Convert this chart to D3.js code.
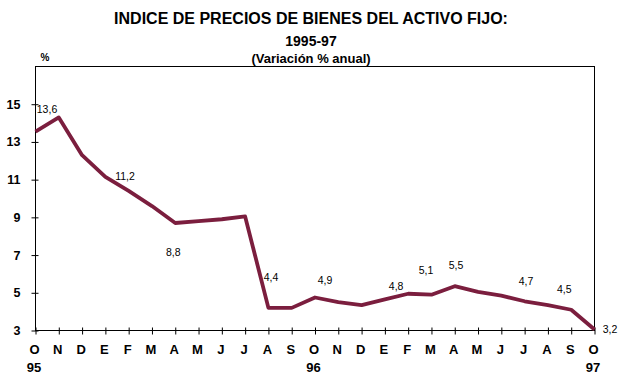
<!DOCTYPE html>
<html>
<head>
<meta charset="utf-8">
<script src="https://cdn.jsdelivr.net/npm/d3@7"></script>
<style>
  html, body { margin: 0; padding: 0; background: #fff; }
  svg { display: block; font-family: "Liberation Sans", Arial, sans-serif; }
</style>
</head>
<body>
<svg id="chart" width="623" height="391"></svg>
<script>
// ---- Data ----
const months = ["O","N","D","E","F","M","A","M","J","J","A","S",
                "O","N","D","E","F","M","A","M","J","J","A","S","O"];
const yearLabels = ["95", "96", "97"];
const yearMonthIndex = [0, 12, 24];
const values = [13.55, 14.3, 12.3, 11.15, 10.4, 9.6, 8.7, 8.8, 8.9, 9.05, 4.2, 4.2,
                4.75, 4.5, 4.35, 4.65, 4.95, 4.9, 5.35, 5.05, 4.85, 4.55, 4.35, 4.1, 3.05];
const labelMonthIndex = [0, 3, 6, 10, 12, 16, 17, 18, 21, 23, 24];
const labelValues = [13.6, 11.2, 8.8, 4.4, 4.9, 4.8, 5.1, 5.5, 4.7, 4.5, 3.2];
const yTicks = [3, 5, 7, 9, 11, 13, 15];

// ---- Layout (positions / styles) ----
const labelOffsets = [[11.5,-18.6],[19.6,3.2],[-2,32.7],[2.6,-27],[10,-13.5],[-12,-3.7],
                      [-5.5,-20.7],[1.3,-17],[1.4,-16],[-7,-17],[15.5,3.5]];
const plotL = 35.5, plotR = 594.5, plotT = 66.5, plotB = 330.5;
const lineColor = "#7b1e3e";

const svg = d3.select("#chart");
const x = d3.scaleLinear().domain([0, months.length - 1]).range([plotL, plotR]);
const y = d3.scaleLinear().domain([3, 17]).range([plotB, plotT]);

// Titles
svg.append("text").attr("x", 311).attr("y", 24).attr("text-anchor", "middle")
  .attr("font-weight", "bold").attr("font-size", 16).text("INDICE DE PRECIOS DE BIENES DEL ACTIVO FIJO:");
svg.append("text").attr("x", 311).attr("y", 46).attr("text-anchor", "middle")
  .attr("font-weight", "bold").attr("font-size", 14).text("1995-97");
svg.append("text").attr("x", 311).attr("y", 63).attr("text-anchor", "middle")
  .attr("font-weight", "bold").attr("font-size", 13).text("(Variación % anual)");
svg.append("text").attr("x", 45).attr("y", 61).attr("text-anchor", "middle")
  .attr("font-weight", "bold").attr("font-size", 10).text("%");

// Frame
svg.append("rect").attr("x", plotL).attr("y", plotT).attr("width", plotR - plotL).attr("height", plotB - plotT)
  .attr("fill", "none").attr("stroke", "#000").attr("stroke-width", 1);

// Y axis
const yAxis = d3.axisLeft(y).tickValues(yTicks).tickSize(0).tickPadding(15);
const gy = svg.append("g").attr("transform", `translate(${plotL},0)`).call(yAxis);
gy.select(".domain").remove();
gy.selectAll("text").attr("font-family", "Liberation Sans, Arial, sans-serif")
  .attr("font-weight", "bold").attr("font-size", 12.5).attr("fill", "#000");
gy.selectAll(".tick").append("line").attr("x1", -4).attr("x2", 3).attr("stroke", "#000");

// X axis
const gx = svg.append("g").attr("transform", `translate(0,${plotB})`)
  .call(d3.axisBottom(x).tickValues(d3.range(months.length)).tickSize(0).tickFormat(i => months[i]).tickPadding(14));
gx.select(".domain").remove();
gx.selectAll("text").attr("font-family", "Liberation Sans, Arial, sans-serif")
  .attr("font-weight", "bold").attr("font-size", 13).attr("fill", "#000").attr("dx", -1.5);
gx.selectAll(".tick").append("line").attr("y1", -3).attr("y2", 4).attr("stroke", "#000");

// Year labels
svg.append("g").selectAll("text").data(yearLabels).join("text")
  .attr("x", (d, i) => x(yearMonthIndex[i]) - 1.5).attr("y", plotB + 41)
  .attr("text-anchor", "middle").attr("font-weight", "bold").attr("font-size", 13).text(d => d);

// Line
const line = d3.line().x((d, i) => x(i)).y(d => y(d));
svg.append("path").datum(values).attr("d", line).attr("fill", "none")
  .attr("stroke", lineColor).attr("stroke-width", 3.8).attr("stroke-linejoin", "round");

// Data labels
const fmt = v => d3.format(".1f")(v).replace(".", ",");
svg.append("g").selectAll("text").data(labelValues).join("text")
  .attr("x", (d, i) => x(labelMonthIndex[i]) + labelOffsets[i][0])
  .attr("y", (d, i) => y(values[labelMonthIndex[i]]) + labelOffsets[i][1])
  .attr("text-anchor", "middle").attr("font-size", 10.5).attr("fill", "#000").text(fmt);
</script>
</body>
</html>
